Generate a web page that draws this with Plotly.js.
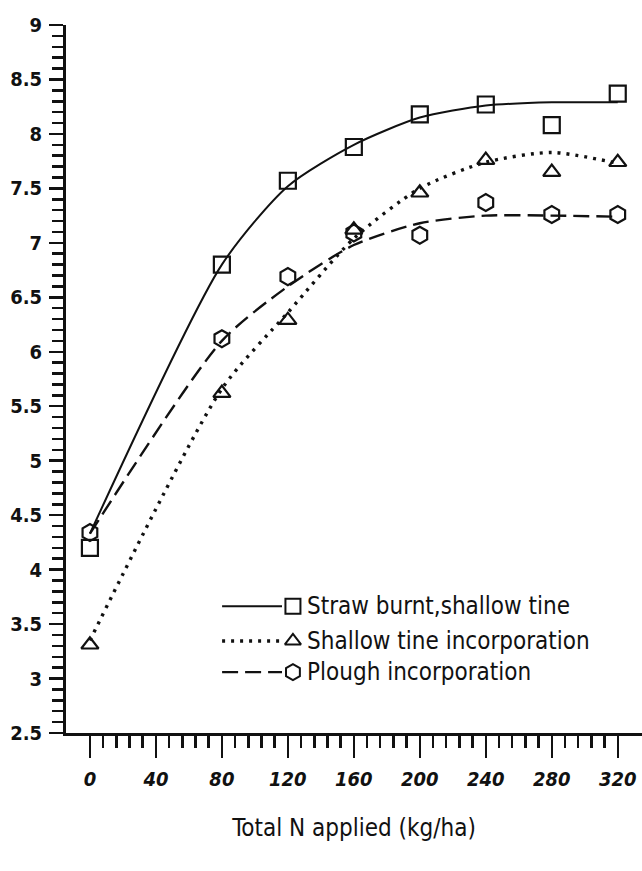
<!DOCTYPE html>
<html>
<head>
<meta charset="utf-8">
<script src="https://cdn.plot.ly/plotly-3.0.1.min.js"></script>
<style>
  html, body { margin: 0; padding: 0; background: #fff; }
  #chart { width: 642px; height: 871px; }
</style>
</head>
<body>
<div id="chart"></div>
<script>
// ---- data ----
const nApplied = [0, 80, 120, 160, 200, 240, 280, 320];
const strawBurnt  = [4.20, 6.80, 7.57, 7.88, 8.18, 8.27, 8.08, 8.37];
const shallowTine = [3.31, 5.62, 6.29, 7.12, 7.46, 7.76, 7.65, 7.74];
const plough      = [4.34, 6.12, 6.69, 7.09, 7.07, 7.37, 7.26, 7.26];
// fitted response curves as drawn in the reference
const fitStraw   = [4.33, 6.80, 7.52, 7.90, 8.15, 8.26, 8.29, 8.29];
const fitShallow = [3.35, 5.66, 6.36, 7.04, 7.50, 7.74, 7.83, 7.73];
const fitPlough  = [4.33, 6.10, 6.60, 6.98, 7.18, 7.25, 7.25, 7.24];

const seriesNames = ["Straw burnt,shallow tine", "Shallow tine incorporation", "Plough incorporation"];
const xTickVals = [0, 40, 80, 120, 160, 200, 240, 280, 320];
const yTickVals = [2.5, 3, 3.5, 4, 4.5, 5, 5.5, 6, 6.5, 7, 7.5, 8, 8.5, 9];

const FONT = "'Liberation Sans Narrow', 'DejaVu Sans Condensed', 'Roboto', sans-serif";
const INK = "#111";

const styles = [
  {dash: "solid",       width: 2,   symbol: "square-open",      size: 16},
  {dash: "3px,6px",     width: 3.4, symbol: "triangle-up-open", size: 15},
  {dash: "16px,7px",    width: 2.4, symbol: "hexagon-open",     size: 17}
];
const fits = [fitStraw, fitShallow, fitPlough];
const obs = [strawBurnt, shallowTine, plough];

const traces = [];
for (let i = 0; i < 3; i++) {
  traces.push({
    x: nApplied, y: fits[i], mode: "lines", type: "scatter",
    line: {color: INK, width: styles[i].width, dash: styles[i].dash, shape: "spline", smoothing: 0.7},
    showlegend: false, hoverinfo: "skip", cliponaxis: false
  });
  traces.push({
    x: nApplied, y: obs[i], mode: "markers", type: "scatter", name: seriesNames[i],
    marker: {symbol: styles[i].symbol, size: styles[i].size, color: INK, line: {color: INK, width: 2.2}},
    showlegend: false, cliponaxis: false
  });
}

// hand-made legend on an overlay axis pair spanning the plot area (0..1)
const legRows = [0.179, 0.130, 0.086];
const legLineX = [0.271, 0.375];
const legMarkX = 0.394;
const annotations = [];
for (let i = 0; i < 3; i++) {
  traces.push({
    x: legLineX, y: [legRows[i], legRows[i]], xaxis: "x2", yaxis: "y2", mode: "lines",
    line: {color: INK, width: styles[i].width, dash: styles[i].dash},
    showlegend: false, hoverinfo: "skip"
  });
  traces.push({
    x: [legMarkX], y: [legRows[i]], xaxis: "x2", yaxis: "y2", mode: "markers",
    marker: {symbol: styles[i].symbol, size: styles[i].size - 1, color: INK, line: {color: INK, width: 2}},
    showlegend: false, hoverinfo: "skip"
  });
  annotations.push({
    xref: "paper", yref: "paper", x: 0.415, y: legRows[i], xanchor: "left", yanchor: "middle",
    text: seriesNames[i], showarrow: false,
    font: {family: FONT, size: 24, color: INK}
  });
}

const xMinor = [];
for (let v = 0; v <= 320; v += 8) if (v % 40 !== 0) xMinor.push(v);
const yMinor = [];
for (let k = 25; k <= 90; k++) if (k % 5 !== 0) yMinor.push(k / 10);

const layout = {
  width: 642, height: 871,
  margin: {l: 66, r: 0, t: 25, b: 138},
  paper_bgcolor: "#fff", plot_bgcolor: "#fff",
  showlegend: false,
  xaxis: {
    range: [-14.5, 334.7], showgrid: false, zeroline: false,
    showline: true, linecolor: INK, linewidth: 3,
    tickmode: "array", tickvals: xTickVals,
    ticks: "outside", ticklen: 22, tickwidth: 2.5, tickcolor: INK,
    ticklabelstandoff: 4, ticklabeloverflow: "allow",
    tickfont: {family: FONT, size: 20, color: INK, weight: "bold", style: "italic"},
    minor: {tickmode: "array", tickvals: xMinor, ticks: "outside", ticklen: 12, tickwidth: 2.5, tickcolor: INK, showgrid: false},
    title: {text: "Total N applied (kg/ha)", standoff: 30, font: {family: FONT, size: 24, color: INK}},
    automargin: false, fixedrange: true
  },
  yaxis: {
    range: [2.5, 9], showgrid: false, zeroline: false,
    showline: true, linecolor: INK, linewidth: 3,
    tickmode: "array", tickvals: yTickVals,
    ticks: "outside", ticklen: 14, tickwidth: 2.5, tickcolor: INK,
    ticklabelstandoff: 3, ticklabeloverflow: "allow",
    tickfont: {family: FONT, size: 20, color: INK, weight: "bold"},
    minor: {tickmode: "array", tickvals: yMinor, ticks: "outside", ticklen: 11, tickwidth: 2.5, tickcolor: INK, showgrid: false},
    automargin: false, fixedrange: true
  },
  xaxis2: {overlaying: "x", anchor: "y2", range: [0, 1], visible: false, fixedrange: true},
  yaxis2: {overlaying: "y", anchor: "x2", range: [0, 1], visible: false, fixedrange: true},
  annotations: annotations
};

Plotly.newPlot("chart", traces, layout, {staticPlot: true, displayModeBar: false});
</script>
</body>
</html>
